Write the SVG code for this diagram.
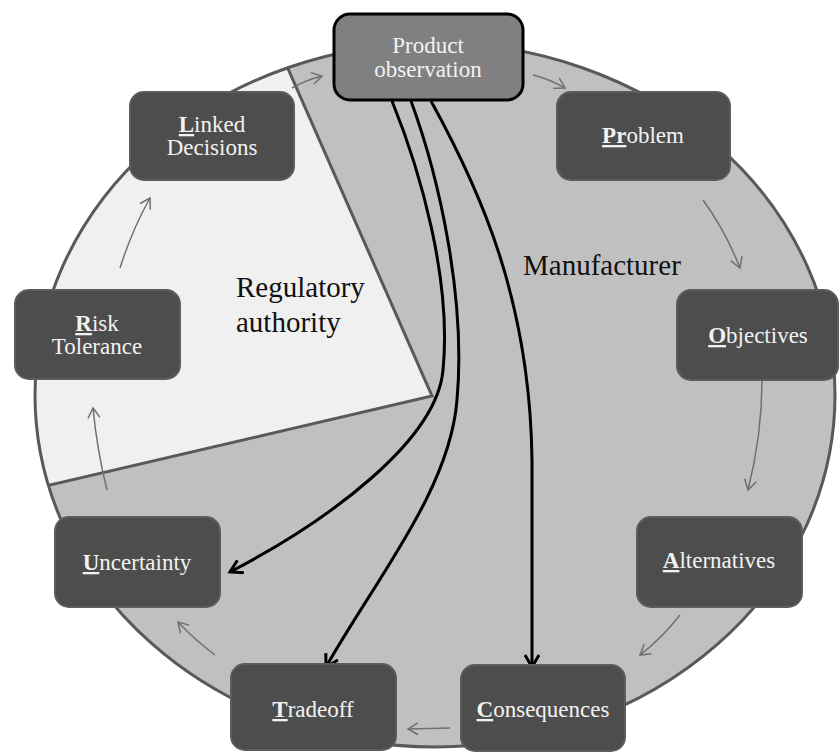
<svg xmlns="http://www.w3.org/2000/svg" width="840" height="752" viewBox="0 0 840 752">
<style>
.node rect{fill:#4d4d4d;stroke:#5c5c5c;stroke-width:2}
.node text{font-family:"Liberation Serif","Times New Roman",serif;font-size:23px;fill:#f2f2f2;text-anchor:middle}
.k{font-weight:bold;text-decoration:underline}
.region{font-family:"Liberation Serif","Times New Roman",serif;font-size:29px;fill:#111}
.cyc{fill:none;stroke:#707070;stroke-width:1.5}
.flow{fill:none;stroke:#000;stroke-width:3}
</style>
<defs>
<clipPath id="ell"><ellipse cx="435" cy="395" rx="400" ry="352"/></clipPath>
<marker id="ag" markerUnits="userSpaceOnUse" markerWidth="14" markerHeight="14" refX="11" refY="7" orient="auto">
<path d="M1,1 L11,7 L1,13" fill="none" stroke="#707070" stroke-width="1.5"/>
</marker>
<marker id="ab" markerUnits="userSpaceOnUse" markerWidth="16" markerHeight="16" refX="13" refY="8" orient="auto">
<path d="M1,1 L13,8 L1,15" fill="none" stroke="#000" stroke-width="3"/>
</marker>
</defs>
<rect width="840" height="752" fill="#fff"/>
<ellipse cx="435" cy="395" rx="400" ry="352" fill="#c0c0c0"/>
<g clip-path="url(#ell)">
<polygon points="271,0 271,30 432,396 20,492 0,492 0,0" fill="#f0f0f0"/>
<polyline points="271,30 432,396 20,492" fill="none" stroke="#595959" stroke-width="3"/>
</g>
<ellipse cx="435" cy="395" rx="400" ry="352" fill="none" stroke="#595959" stroke-width="3"/>
<text class="region" x="236" y="297">Regulatory</text>
<text class="region" x="236" y="332">authority</text>
<text class="region" x="523" y="275">Manufacturer</text>
<g id="connectors">
<path class="cyc" d="M292,88 Q306,80 322,76" marker-end="url(#ag)"/>
<path class="cyc" d="M533,75 Q549,79 565,88" marker-end="url(#ag)"/>
<path class="cyc" d="M703,200 Q725,230 740,268" marker-end="url(#ag)"/>
<path class="cyc" d="M762,380 Q762,435 748,490" marker-end="url(#ag)"/>
<path class="cyc" d="M680,615 Q662,638 640,655" marker-end="url(#ag)"/>
<path class="cyc" d="M450,728 L408,729" marker-end="url(#ag)"/>
<path class="cyc" d="M215,655 Q195,640 178,622" marker-end="url(#ag)"/>
<path class="cyc" d="M107,490 Q97,450 93,408" marker-end="url(#ag)"/>
<path class="cyc" d="M120,268 Q132,230 150,198" marker-end="url(#ag)"/>
<path class="flow" d="M392,101 C420,170 452,280 443,370 C437,440 330,520 230,572" marker-end="url(#ab)"/>
<path class="flow" d="M411,101 C440,180 466,300 457,400 C450,490 375,580 326,667" marker-end="url(#ab)"/>
<path class="flow" d="M431,101 C480,190 530,300 532,460 L532,667" marker-end="url(#ab)"/>
</g>
<g id="product" class="node">
<rect x="334" y="14" width="189" height="86" rx="16" style="fill:#808080;stroke:#000;stroke-width:3"/>
<text x="428" y="53">Product</text>
<text x="428" y="77">observation</text>
</g>
<g id="problem" class="node">
<rect x="557" y="92" width="173" height="88" rx="14"/>
<text x="643" y="143"><tspan class="k">Pr</tspan>oblem</text>
</g>
<g id="objectives" class="node">
<rect x="677" y="290" width="161" height="90" rx="14"/>
<text x="758" y="343"><tspan class="k">O</tspan>bjectives</text>
</g>
<g id="alternatives" class="node">
<rect x="637" y="517" width="165" height="90" rx="14"/>
<text x="719" y="568"><tspan class="k">A</tspan>lternatives</text>
</g>
<g id="consequences" class="node">
<rect x="461" y="665" width="164" height="86" rx="14"/>
<text x="543" y="717"><tspan class="k">C</tspan>onsequences</text>
</g>
<g id="tradeoff" class="node">
<rect x="231" y="664" width="165" height="86" rx="14"/>
<text x="313" y="717"><tspan class="k">T</tspan>radeoff</text>
</g>
<g id="uncertainty" class="node">
<rect x="55" y="517" width="165" height="90" rx="14"/>
<text x="137" y="570"><tspan class="k">U</tspan>ncertainty</text>
</g>
<g id="risk" class="node">
<rect x="15" y="290" width="165" height="89" rx="14"/>
<text x="97" y="331"><tspan class="k">R</tspan>isk</text>
<text x="97" y="354">Tolerance</text>
</g>
<g id="linked" class="node">
<rect x="130" y="92" width="164" height="88" rx="14"/>
<text x="212" y="132"><tspan class="k">L</tspan>inked</text>
<text x="212" y="155">Decisions</text>
</g>
</svg>
